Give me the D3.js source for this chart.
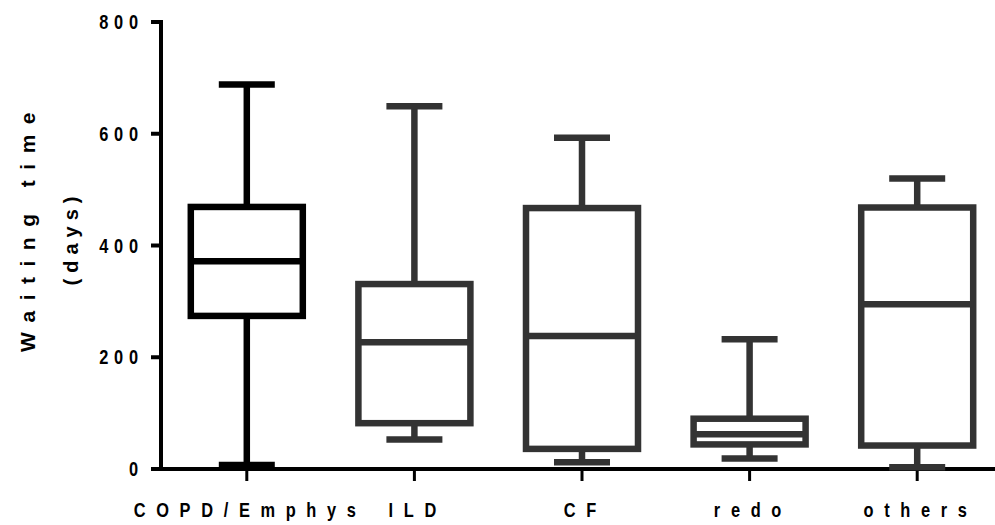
<!DOCTYPE html>
<html>
<head>
<meta charset="utf-8">
<script src="https://cdn.jsdelivr.net/npm/d3@7"></script>
<style>
  body { margin: 0; background: #fff; }
  text { font-family: "Liberation Sans", Arial, sans-serif; font-weight: bold; fill: #000; }
</style>
</head>
<body>
<div id="container"></div>
<script>
// groups on the x axis
var groups = ['COPD/Emphys', 'ILD', 'CF', 'redo', 'others']
// box plot values per group (days)
var whiskerLow = [7, 53, 12, 19, 3]
var q1 = [274, 82, 36, 44, 42]
var median = [372, 227, 238, 62, 295]
var q3 = [469, 331, 467, 90, 468]
var whiskerHigh = [688, 649, 593, 232, 520]
var colours = ['#000000', '#333333', '#333333', '#333333', '#333333']

var yTicks = [0, 200, 400, 600, 800]

var width = 995
var height = 525

var svg = d3.select('#container').append('svg')
  .attr('width', width)
  .attr('height', height)

var x = d3.scaleBand()
  .domain(groups)
  .range([163, 1001])

var y = d3.scaleLinear()
  .domain([0, 800])
  .range([469, 22])

var boxW = 112
var capW = 56
var sw = 6.5
var squeeze = 0.82 // the labels are drawn a bit narrow

/* axes drawn by hand to get the thick prism look */
var yAxis = svg.append('g').attr('class', 'y-axis')
yAxis.append('line')
  .attr('x1', 161).attr('x2', 161)
  .attr('y1', y(800) - 2).attr('y2', y(0) + 2)
  .style('stroke', '#000').style('stroke-width', 4)
yAxis.selectAll('.tick').data(yTicks).enter().append('line')
  .attr('x1', 151).attr('x2', 161)
  .attr('y1', function (d) { return y(d) }).attr('y2', function (d) { return y(d) })
  .style('stroke', '#000').style('stroke-width', 4)
yAxis.selectAll('g.lab').data(yTicks).enter().append('g')
  .attr('transform', function (d) { return 'translate(138,' + y(d) + ') scale(' + squeeze + ',1)' })
  .append('text')
  .attr('dx', 7)
  .attr('dy', '.36em')
  .attr('text-anchor', 'end')
  .style('font-size', '20px')
  .style('letter-spacing', '7px')
  .text(function (d) { return d })

var xAxis = svg.append('g').attr('class', 'x-axis')
xAxis.append('line')
  .attr('x1', 151).attr('x2', width)
  .attr('y1', y(0)).attr('y2', y(0))
  .style('stroke', '#000').style('stroke-width', 4)
xAxis.selectAll('.tick').data(groups).enter().append('line')
  .attr('x1', function (d) { return x(d) + x.bandwidth() / 2 })
  .attr('x2', function (d) { return x(d) + x.bandwidth() / 2 })
  .attr('y1', y(0)).attr('y2', y(0) + 12)
  .style('stroke', '#000').style('stroke-width', 3)
xAxis.selectAll('g.lab').data(groups).enter().append('g')
  .attr('transform', function (d) { return 'translate(' + (x(d) + x.bandwidth() / 2 - 2) + ',517) scale(' + squeeze + ',1)' })
  .append('text')
  .attr('dx', 6.5)
  .attr('text-anchor', 'middle')
  .style('font-size', '20px')
  .style('letter-spacing', '13px')
  .text(function (d) { return d })

// y title, two lines
var title = svg.append('g').attr('transform', 'translate(0,232) rotate(-90)')
title.append('text')
  .attr('x', 5).attr('y', 35)
  .attr('text-anchor', 'middle')
  .style('font-size', '21px')
  .style('letter-spacing', '10.5px')
  .text('Waiting time')
title.append('text')
  .attr('x', -6).attr('y', 78)
  .attr('text-anchor', 'middle')
  .style('font-size', '20px')
  .style('letter-spacing', '6px')
  .text('(days)')

// boxes
var box = svg.append('g').selectAll('g')
  .data(groups).enter().append('g')
  .attr('transform', function (d) { return 'translate(' + (x(d) + x.bandwidth() / 2) + ',0)' })

box.append('line')
  .attr('y1', function (d, i) { return y(whiskerHigh[i]) })
  .attr('y2', function (d, i) { return y(q3[i]) })
  .style('stroke', function (d, i) { return colours[i] }).style('stroke-width', sw)
box.append('line')
  .attr('y1', function (d, i) { return y(q1[i]) })
  .attr('y2', function (d, i) { return y(whiskerLow[i]) })
  .style('stroke', function (d, i) { return colours[i] }).style('stroke-width', sw)
box.append('line')
  .attr('x1', -capW / 2).attr('x2', capW / 2)
  .attr('y1', function (d, i) { return y(whiskerHigh[i]) })
  .attr('y2', function (d, i) { return y(whiskerHigh[i]) })
  .style('stroke', function (d, i) { return colours[i] }).style('stroke-width', sw)
box.append('line')
  .attr('x1', -capW / 2).attr('x2', capW / 2)
  .attr('y1', function (d, i) { return y(whiskerLow[i]) })
  .attr('y2', function (d, i) { return y(whiskerLow[i]) })
  .style('stroke', function (d, i) { return colours[i] }).style('stroke-width', sw)
box.append('rect')
  .attr('x', -boxW / 2).attr('width', boxW)
  .attr('y', function (d, i) { return y(q3[i]) })
  .attr('height', function (d, i) { return y(q1[i]) - y(q3[i]) })
  .style('fill', '#fff')
  .style('stroke', function (d, i) { return colours[i] }).style('stroke-width', sw)
box.append('line')
  .attr('x1', -boxW / 2).attr('x2', boxW / 2)
  .attr('y1', function (d, i) { return y(median[i]) })
  .attr('y2', function (d, i) { return y(median[i]) })
  .style('stroke', function (d, i) { return colours[i] }).style('stroke-width', sw)
</script>
</body>
</html>
